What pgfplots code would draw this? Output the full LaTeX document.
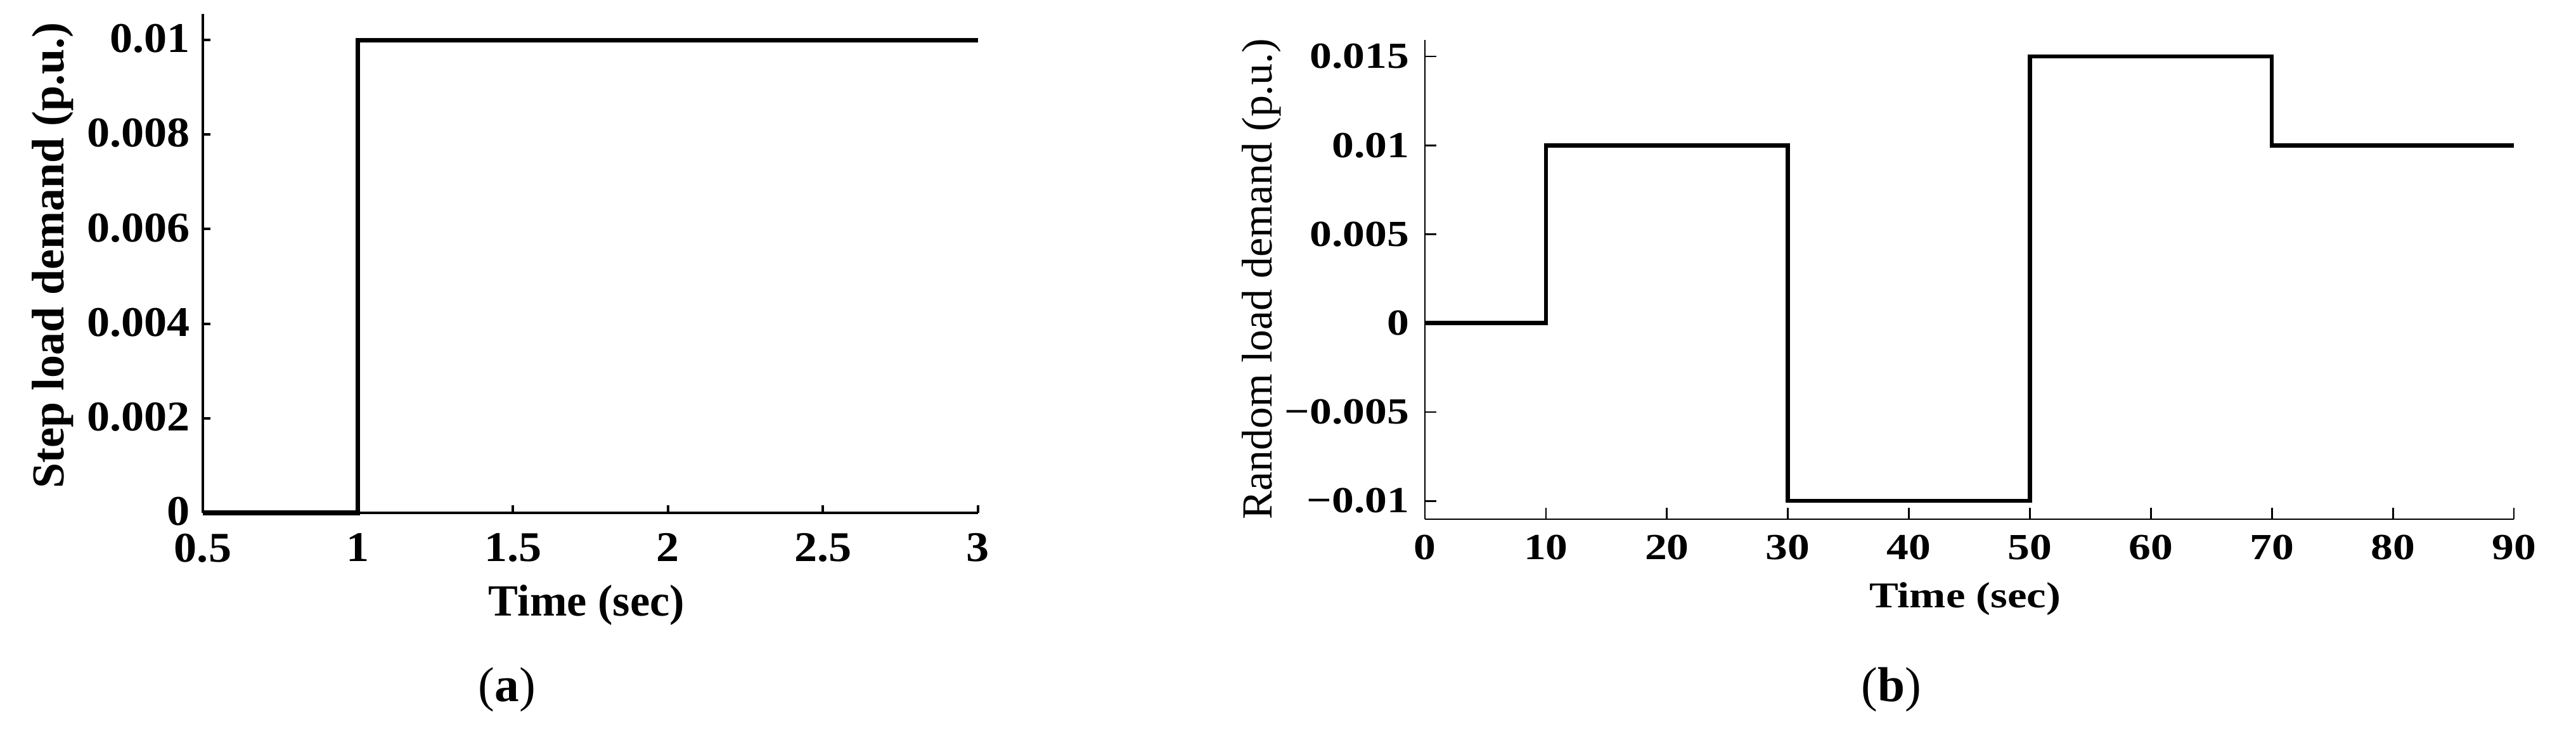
\documentclass[border=0pt]{standalone}
\usepackage{fontspec}
\setmainfont{Liberation Serif}
\usepackage{pgfplots}
\pgfplotsset{compat=1.18}
\begin{document}
\begin{tikzpicture}[x=1cm,y=1cm]
\path[use as bounding box] (0,0) rectangle (40.64,11.6);
% ---------- (a) ----------
\begin{axis}[
  at={(3.20cm,3.51cm)}, anchor=south west,
  scale only axis, width=12.23cm, height=7.87cm,
  xmin=0.5, xmax=3, ymin=0, ymax=0.01055,
  scaled ticks=false,
  axis x line*=bottom, axis y line*=left,
  axis line style={line width=1pt},
  tick align=inside, major tick length=0.12cm,
  every tick/.style={line width=1.1pt, black},
  xtick={0.5,1,1.5,2,2.5,3},
  xticklabels={0.5,1,1.5,2,2.5,3},
  ytick={0,0.002,0.004,0.006,0.008,0.01},
  yticklabels={0,0.002,0.004,0.006,0.008,0.01},
  tick label style={font=\fontsize{19}{19}\selectfont\bfseries, xscale=1.08, inner sep=0pt},
  xticklabel style={anchor=north, yshift=-0.32cm},
  yticklabel style={anchor=east, xshift=-0.18cm, yshift=0.02cm},
  xlabel={Time (sec)},
  ylabel={Step load demand (p.u.)},
  xlabel style={font=\fontsize{20}{20}\selectfont\bfseries, at={(axis description cs:0.495,-0.207)}, anchor=base},
  ylabel style={font=\fontsize{20.5}{20.5}\selectfont\bfseries, at={(axis description cs:-0.194,0.516)}, anchor=center, rotate=0},
  clip=false,
]
\addplot[black, line width=2pt, line join=miter] coordinates {(0.5,0) (1,0) (1,0.01) (3,0.01)};
\end{axis}
% ---------- (b) ----------
\begin{axis}[
  at={(22.48cm,3.41cm)}, anchor=south west,
  scale only axis, width=17.18cm, height=7.56cm,
  xmin=0, xmax=90, ymin=-0.01103, ymax=0.01593,
  scaled ticks=false,
  axis x line*=bottom, axis y line*=left,
  axis line style={line width=0.75pt},
  tick align=inside, major tick length=0.18cm,
  every tick/.style={line width=0.8pt, black},
  xtick={0,10,...,90},
  xticklabels={0,10,20,30,40,50,60,70,80,90},
  ytick={-0.01,-0.005,0,0.005,0.01,0.015},
  yticklabels={−0.01,−0.005,0,0.005,0.01,0.015},
  tick label style={font=\fontsize{16.5}{16.5}\selectfont\bfseries, xscale=1.2, inner sep=0pt},
  xticklabel style={anchor=north, yshift=-0.24cm},
  yticklabel style={anchor=east, xshift=-0.20cm},
  xlabel={Time (sec)},
  ylabel={Random load demand (p.u.)},
  xlabel style={font=\fontsize{16.3}{16.3}\selectfont\bfseries, xscale=1.2, at={(axis description cs:0.496,-0.184)}, anchor=base},
  ylabel style={font=\fontsize{19.3}{19.3}\selectfont, at={(axis description cs:-0.150,0.501)}, anchor=center, rotate=0},
  clip=false,
]
\addplot[black, line width=1.85pt, line join=miter] coordinates {(0,0) (10,0) (10,0.01) (30,0.01) (30,-0.01) (50,-0.01) (50,0.015) (70,0.015) (70,0.01) (90,0.01)};
\end{axis}
\node[font=\fontsize{22}{22}\selectfont] at (8.00,0.72) {(\textbf{a})};
\node[font=\fontsize{22}{22}\selectfont] at (29.84,0.72) {(\textbf{b})};
\end{tikzpicture}
\end{document}
